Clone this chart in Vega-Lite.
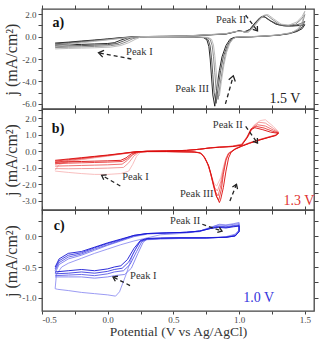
{
  "$schema": "https://vega.github.io/schema/vega-lite/v6.json",
  "padding": {"left": 3, "top": 3, "right": 3, "bottom": 0},
  "spacing": 0,
  "bounds": "flush",
  "config": {
    "font": "Liberation Serif",
    "view": {"stroke": "#444", "strokeWidth": 1.3},
    "axis": {
      "grid": false, "domain": false, "tickSize": 4, "tickColor": "#444", "tickWidth": 1,
      "labelFont": "Liberation Serif", "labelFontSize": 9, "labelColor": "#444", "labelPadding": 2,
      "titleFont": "Liberation Serif", "titleFontSize": 16, "titleFontWeight": "normal", "titleColor": "#333"
    }
  },
  "resolve": {"scale": {"color": "independent"}},
  "datasets": {
    "cvA": [
      {"c":4,"v":-0.40,"j":-0.58},{"c":4,"v":-0.30,"j":-0.50},{"c":4,"v":-0.20,"j":-0.40},{"c":4,"v":-0.10,"j":-0.31},{"c":4,"v":0.00,"j":-0.21},{"c":4,"v":0.10,"j":-0.10},{"c":4,"v":0.20,"j":-0.02},{"c":4,"v":0.30,"j":0.00},{"c":4,"v":0.45,"j":0.01},{"c":4,"v":0.60,"j":0.05},{"c":4,"v":0.70,"j":0.10},{"c":4,"v":0.80,"j":0.16},{"c":4,"v":0.90,"j":0.22},{"c":4,"v":0.96,"j":0.38},{"c":4,"v":1.00,"j":0.52},{"c":4,"v":1.04,"j":0.42},{"c":4,"v":1.08,"j":0.62},{"c":4,"v":1.12,"j":1.20},{"c":4,"v":1.16,"j":1.70},{"c":4,"v":1.19,"j":1.78},{"c":4,"v":1.23,"j":1.45},{"c":4,"v":1.28,"j":1.10},{"c":4,"v":1.34,"j":0.95},{"c":4,"v":1.40,"j":0.93},{"c":4,"v":1.46,"j":0.98},{"c":4,"v":1.50,"j":1.05},
      {"c":4,"v":1.48,"j":0.70},{"c":4,"v":1.44,"j":0.45},{"c":4,"v":1.38,"j":0.25},{"c":4,"v":1.30,"j":0.12},{"c":4,"v":1.20,"j":0.04},{"c":4,"v":1.10,"j":-0.02},{"c":4,"v":1.00,"j":-0.06},{"c":4,"v":0.96,"j":-0.08},{"c":4,"v":0.93,"j":-0.25},{"c":4,"v":0.90,"j":-0.80},{"c":4,"v":0.87,"j":-1.80},{"c":4,"v":0.85,"j":-3.00},{"c":4,"v":0.83,"j":-4.60},{"c":4,"v":0.815,"j":-6.20},{"c":4,"v":0.80,"j":-5.20},{"c":4,"v":0.79,"j":-3.60},{"c":4,"v":0.78,"j":-2.00},{"c":4,"v":0.77,"j":-0.90},{"c":4,"v":0.755,"j":-0.30},{"c":4,"v":0.73,"j":-0.10},{"c":4,"v":0.65,"j":-0.04},{"c":4,"v":0.45,"j":-0.02},{"c":4,"v":0.30,"j":-0.02},{"c":4,"v":0.20,"j":-0.04},{"c":4,"v":0.15,"j":-0.12},{"c":4,"v":0.10,"j":-0.32},{"c":4,"v":0.05,"j":-0.55},{"c":4,"v":0.00,"j":-0.62},{"c":4,"v":-0.10,"j":-0.66},{"c":4,"v":-0.20,"j":-0.70},{"c":4,"v":-0.30,"j":-0.73},{"c":4,"v":-0.40,"j":-0.76},

      {"c":3,"v":-0.40,"j":-0.65},{"c":3,"v":-0.30,"j":-0.55},{"c":3,"v":-0.20,"j":-0.44},{"c":3,"v":-0.10,"j":-0.34},{"c":3,"v":0.00,"j":-0.24},{"c":3,"v":0.10,"j":-0.12},{"c":3,"v":0.20,"j":-0.03},{"c":3,"v":0.30,"j":0.00},{"c":3,"v":0.45,"j":0.02},{"c":3,"v":0.60,"j":0.05},{"c":3,"v":0.70,"j":0.11},{"c":3,"v":0.80,"j":0.17},{"c":3,"v":0.90,"j":0.24},{"c":3,"v":0.96,"j":0.40},{"c":3,"v":1.00,"j":0.50},{"c":3,"v":1.05,"j":0.40},{"c":3,"v":1.09,"j":0.70},{"c":3,"v":1.13,"j":1.30},{"c":3,"v":1.17,"j":1.76},{"c":3,"v":1.20,"j":1.72},{"c":3,"v":1.24,"j":1.40},{"c":3,"v":1.30,"j":1.05},{"c":3,"v":1.36,"j":0.95},{"c":3,"v":1.42,"j":0.98},{"c":3,"v":1.47,"j":1.15},{"c":3,"v":1.50,"j":1.35},
      {"c":3,"v":1.48,"j":0.85},{"c":3,"v":1.44,"j":0.50},{"c":3,"v":1.38,"j":0.28},{"c":3,"v":1.30,"j":0.13},{"c":3,"v":1.20,"j":0.04},{"c":3,"v":1.10,"j":-0.02},{"c":3,"v":1.00,"j":-0.05},{"c":3,"v":0.97,"j":-0.08},{"c":3,"v":0.94,"j":-0.25},{"c":3,"v":0.91,"j":-0.80},{"c":3,"v":0.88,"j":-1.80},{"c":3,"v":0.86,"j":-3.00},{"c":3,"v":0.84,"j":-4.60},{"c":3,"v":0.825,"j":-5.95},{"c":3,"v":0.81,"j":-5.00},{"c":3,"v":0.80,"j":-3.40},{"c":3,"v":0.79,"j":-1.90},{"c":3,"v":0.78,"j":-0.85},{"c":3,"v":0.765,"j":-0.28},{"c":3,"v":0.74,"j":-0.10},{"c":3,"v":0.66,"j":-0.04},{"c":3,"v":0.45,"j":-0.02},{"c":3,"v":0.30,"j":-0.02},{"c":3,"v":0.22,"j":-0.04},{"c":3,"v":0.17,"j":-0.15},{"c":3,"v":0.12,"j":-0.40},{"c":3,"v":0.07,"j":-0.62},{"c":3,"v":0.00,"j":-0.72},{"c":3,"v":-0.10,"j":-0.77},{"c":3,"v":-0.20,"j":-0.81},{"c":3,"v":-0.30,"j":-0.84},{"c":3,"v":-0.40,"j":-0.88},

      {"c":2,"v":-0.40,"j":-0.75},{"c":2,"v":-0.30,"j":-0.62},{"c":2,"v":-0.20,"j":-0.50},{"c":2,"v":-0.10,"j":-0.38},{"c":2,"v":0.00,"j":-0.27},{"c":2,"v":0.10,"j":-0.15},{"c":2,"v":0.20,"j":-0.04},{"c":2,"v":0.30,"j":0.00},{"c":2,"v":0.45,"j":0.02},{"c":2,"v":0.60,"j":0.06},{"c":2,"v":0.70,"j":0.12},{"c":2,"v":0.80,"j":0.18},{"c":2,"v":0.90,"j":0.25},{"c":2,"v":0.97,"j":0.42},{"c":2,"v":1.01,"j":0.48},{"c":2,"v":1.06,"j":0.38},{"c":2,"v":1.10,"j":0.75},{"c":2,"v":1.14,"j":1.35},{"c":2,"v":1.18,"j":1.85},{"c":2,"v":1.21,"j":1.90},{"c":2,"v":1.25,"j":1.55},{"c":2,"v":1.31,"j":1.05},{"c":2,"v":1.37,"j":0.98},{"c":2,"v":1.43,"j":1.10},{"c":2,"v":1.47,"j":1.50},{"c":2,"v":1.50,"j":1.95},
      {"c":2,"v":1.48,"j":1.10},{"c":2,"v":1.45,"j":0.60},{"c":2,"v":1.39,"j":0.30},{"c":2,"v":1.30,"j":0.14},{"c":2,"v":1.20,"j":0.05},{"c":2,"v":1.10,"j":-0.01},{"c":2,"v":1.00,"j":-0.04},{"c":2,"v":0.975,"j":-0.07},{"c":2,"v":0.95,"j":-0.22},{"c":2,"v":0.92,"j":-0.70},{"c":2,"v":0.895,"j":-1.60},{"c":2,"v":0.875,"j":-2.80},{"c":2,"v":0.855,"j":-4.30},{"c":2,"v":0.84,"j":-5.60},{"c":2,"v":0.825,"j":-4.70},{"c":2,"v":0.815,"j":-3.20},{"c":2,"v":0.805,"j":-1.80},{"c":2,"v":0.795,"j":-0.80},{"c":2,"v":0.78,"j":-0.26},{"c":2,"v":0.755,"j":-0.09},{"c":2,"v":0.67,"j":-0.04},{"c":2,"v":0.45,"j":-0.02},{"c":2,"v":0.30,"j":-0.02},{"c":2,"v":0.24,"j":-0.05},{"c":2,"v":0.19,"j":-0.20},{"c":2,"v":0.14,"j":-0.48},{"c":2,"v":0.09,"j":-0.70},{"c":2,"v":0.02,"j":-0.82},{"c":2,"v":-0.10,"j":-0.88},{"c":2,"v":-0.20,"j":-0.92},{"c":2,"v":-0.30,"j":-0.95},{"c":2,"v":-0.40,"j":-0.98},

      {"c":1,"v":-0.40,"j":-0.90},{"c":1,"v":-0.30,"j":-0.72},{"c":1,"v":-0.20,"j":-0.57},{"c":1,"v":-0.10,"j":-0.43},{"c":1,"v":0.00,"j":-0.30},{"c":1,"v":0.10,"j":-0.17},{"c":1,"v":0.20,"j":-0.05},{"c":1,"v":0.30,"j":0.00},{"c":1,"v":0.45,"j":0.03},{"c":1,"v":0.60,"j":0.06},{"c":1,"v":0.70,"j":0.12},{"c":1,"v":0.80,"j":0.19},{"c":1,"v":0.90,"j":0.26},{"c":1,"v":0.97,"j":0.44},{"c":1,"v":1.02,"j":0.46},{"c":1,"v":1.07,"j":0.36},{"c":1,"v":1.11,"j":0.80},{"c":1,"v":1.15,"j":1.40},{"c":1,"v":1.19,"j":1.90},{"c":1,"v":1.22,"j":1.95},{"c":1,"v":1.26,"j":1.60},{"c":1,"v":1.32,"j":1.10},{"c":1,"v":1.38,"j":1.02},{"c":1,"v":1.44,"j":1.30},{"c":1,"v":1.48,"j":1.80},{"c":1,"v":1.50,"j":2.25},
      {"c":1,"v":1.48,"j":1.30},{"c":1,"v":1.45,"j":0.70},{"c":1,"v":1.40,"j":0.35},{"c":1,"v":1.30,"j":0.15},{"c":1,"v":1.20,"j":0.05},{"c":1,"v":1.10,"j":0.00},{"c":1,"v":1.00,"j":-0.03},{"c":1,"v":0.98,"j":-0.06},{"c":1,"v":0.955,"j":-0.20},{"c":1,"v":0.93,"j":-0.60},{"c":1,"v":0.905,"j":-1.40},{"c":1,"v":0.885,"j":-2.50},{"c":1,"v":0.865,"j":-4.00},{"c":1,"v":0.85,"j":-5.30},{"c":1,"v":0.835,"j":-4.40},{"c":1,"v":0.825,"j":-3.00},{"c":1,"v":0.815,"j":-1.70},{"c":1,"v":0.805,"j":-0.75},{"c":1,"v":0.79,"j":-0.24},{"c":1,"v":0.765,"j":-0.08},{"c":1,"v":0.68,"j":-0.04},{"c":1,"v":0.45,"j":-0.02},{"c":1,"v":0.30,"j":-0.02},{"c":1,"v":0.25,"j":-0.05},{"c":1,"v":0.21,"j":-0.25},{"c":1,"v":0.16,"j":-0.55},{"c":1,"v":0.10,"j":-0.80},{"c":1,"v":0.02,"j":-0.95},{"c":1,"v":-0.10,"j":-1.00},{"c":1,"v":-0.20,"j":-1.03},{"c":1,"v":-0.30,"j":-1.06},{"c":1,"v":-0.40,"j":-1.10}
    ],
    "cvB": [
      {"c":1,"v":-0.40,"j":-1.15},{"c":1,"v":-0.37,"j":-0.80},{"c":1,"v":-0.30,"j":-0.66},{"c":1,"v":-0.20,"j":-0.52},{"c":1,"v":-0.10,"j":-0.40},{"c":1,"v":0.00,"j":-0.30},{"c":1,"v":0.10,"j":-0.18},{"c":1,"v":0.20,"j":-0.07},{"c":1,"v":0.30,"j":0.00},{"c":1,"v":0.45,"j":0.02},{"c":1,"v":0.60,"j":0.05},{"c":1,"v":0.70,"j":0.12},{"c":1,"v":0.78,"j":0.21},{"c":1,"v":0.85,"j":0.26},{"c":1,"v":0.95,"j":0.31},{"c":1,"v":1.02,"j":0.44},{"c":1,"v":1.07,"j":1.00},{"c":1,"v":1.11,"j":1.55},{"c":1,"v":1.16,"j":1.85},{"c":1,"v":1.20,"j":1.90},{"c":1,"v":1.26,"j":1.50},{"c":1,"v":1.30,"j":1.18},
      {"c":1,"v":1.28,"j":0.99},{"c":1,"v":1.22,"j":0.86},{"c":1,"v":1.15,"j":0.70},{"c":1,"v":1.08,"j":0.52},{"c":1,"v":1.02,"j":0.34},{"c":1,"v":0.97,"j":0.16},{"c":1,"v":0.94,"j":-0.01},{"c":1,"v":0.92,"j":-0.10},{"c":1,"v":0.90,"j":-0.40},{"c":1,"v":0.88,"j":-0.95},{"c":1,"v":0.86,"j":-1.60},{"c":1,"v":0.83,"j":-2.10},{"c":1,"v":0.81,"j":-1.95},{"c":1,"v":0.79,"j":-1.50},{"c":1,"v":0.77,"j":-1.00},{"c":1,"v":0.75,"j":-0.58},{"c":1,"v":0.72,"j":-0.22},{"c":1,"v":0.69,"j":-0.07},{"c":1,"v":0.63,"j":-0.04},{"c":1,"v":0.45,"j":-0.02},{"c":1,"v":0.30,"j":-0.02},{"c":1,"v":0.25,"j":-0.06},{"c":1,"v":0.22,"j":-0.30},{"c":1,"v":0.19,"j":-0.80},{"c":1,"v":0.16,"j":-1.20},{"c":1,"v":0.10,"j":-1.35},{"c":1,"v":0.00,"j":-1.40},{"c":1,"v":-0.10,"j":-1.40},{"c":1,"v":-0.20,"j":-1.35},{"c":1,"v":-0.30,"j":-1.28},{"c":1,"v":-0.40,"j":-1.20},

      {"c":2,"v":-0.40,"j":-0.80},{"c":2,"v":-0.30,"j":-0.62},{"c":2,"v":-0.20,"j":-0.49},{"c":2,"v":-0.10,"j":-0.38},{"c":2,"v":0.00,"j":-0.28},{"c":2,"v":0.10,"j":-0.17},{"c":2,"v":0.20,"j":-0.06},{"c":2,"v":0.30,"j":0.00},{"c":2,"v":0.45,"j":0.02},{"c":2,"v":0.60,"j":0.05},{"c":2,"v":0.70,"j":0.12},{"c":2,"v":0.78,"j":0.21},{"c":2,"v":0.85,"j":0.25},{"c":2,"v":0.95,"j":0.30},{"c":2,"v":1.02,"j":0.42},{"c":2,"v":1.07,"j":0.95},{"c":2,"v":1.11,"j":1.50},{"c":2,"v":1.15,"j":1.75},{"c":2,"v":1.20,"j":1.70},{"c":2,"v":1.26,"j":1.38},{"c":2,"v":1.30,"j":1.15},
      {"c":2,"v":1.28,"j":0.98},{"c":2,"v":1.22,"j":0.85},{"c":2,"v":1.15,"j":0.69},{"c":2,"v":1.08,"j":0.51},{"c":2,"v":1.02,"j":0.33},{"c":2,"v":0.97,"j":0.15},{"c":2,"v":0.94,"j":-0.02},{"c":2,"v":0.92,"j":-0.12},{"c":2,"v":0.90,"j":-0.45},{"c":2,"v":0.88,"j":-1.10},{"c":2,"v":0.86,"j":-1.85},{"c":2,"v":0.835,"j":-2.40},{"c":2,"v":0.815,"j":-2.20},{"c":2,"v":0.795,"j":-1.70},{"c":2,"v":0.775,"j":-1.10},{"c":2,"v":0.755,"j":-0.65},{"c":2,"v":0.725,"j":-0.25},{"c":2,"v":0.695,"j":-0.08},{"c":2,"v":0.64,"j":-0.04},{"c":2,"v":0.45,"j":-0.02},{"c":2,"v":0.30,"j":-0.02},{"c":2,"v":0.24,"j":-0.06},{"c":2,"v":0.20,"j":-0.28},{"c":2,"v":0.16,"j":-0.70},{"c":2,"v":0.12,"j":-0.98},{"c":2,"v":0.00,"j":-1.02},{"c":2,"v":-0.10,"j":-1.04},{"c":2,"v":-0.20,"j":-1.05},{"c":2,"v":-0.30,"j":-1.06},{"c":2,"v":-0.40,"j":-1.05},

      {"c":3,"v":-0.40,"j":-0.68},{"c":3,"v":-0.30,"j":-0.56},{"c":3,"v":-0.20,"j":-0.45},{"c":3,"v":-0.10,"j":-0.35},{"c":3,"v":0.00,"j":-0.26},{"c":3,"v":0.10,"j":-0.16},{"c":3,"v":0.20,"j":-0.05},{"c":3,"v":0.30,"j":0.00},{"c":3,"v":0.45,"j":0.02},{"c":3,"v":0.60,"j":0.05},{"c":3,"v":0.70,"j":0.12},{"c":3,"v":0.78,"j":0.20},{"c":3,"v":0.85,"j":0.25},{"c":3,"v":0.95,"j":0.30},{"c":3,"v":1.02,"j":0.40},{"c":3,"v":1.07,"j":0.90},{"c":3,"v":1.10,"j":1.40},{"c":3,"v":1.14,"j":1.60},{"c":3,"v":1.20,"j":1.52},{"c":3,"v":1.26,"j":1.28},{"c":3,"v":1.30,"j":1.12},
      {"c":3,"v":1.28,"j":0.97},{"c":3,"v":1.22,"j":0.84},{"c":3,"v":1.15,"j":0.68},{"c":3,"v":1.08,"j":0.50},{"c":3,"v":1.02,"j":0.32},{"c":3,"v":0.97,"j":0.14},{"c":3,"v":0.94,"j":-0.03},{"c":3,"v":0.92,"j":-0.14},{"c":3,"v":0.90,"j":-0.50},{"c":3,"v":0.88,"j":-1.25},{"c":3,"v":0.86,"j":-2.10},{"c":3,"v":0.84,"j":-2.70},{"c":3,"v":0.82,"j":-2.45},{"c":3,"v":0.80,"j":-1.90},{"c":3,"v":0.78,"j":-1.25},{"c":3,"v":0.76,"j":-0.75},{"c":3,"v":0.73,"j":-0.30},{"c":3,"v":0.70,"j":-0.09},{"c":3,"v":0.64,"j":-0.04},{"c":3,"v":0.45,"j":-0.02},{"c":3,"v":0.30,"j":-0.02},{"c":3,"v":0.23,"j":-0.06},{"c":3,"v":0.19,"j":-0.22},{"c":3,"v":0.15,"j":-0.55},{"c":3,"v":0.11,"j":-0.78},{"c":3,"v":0.00,"j":-0.82},{"c":3,"v":-0.10,"j":-0.84},{"c":3,"v":-0.20,"j":-0.86},{"c":3,"v":-0.30,"j":-0.88},{"c":3,"v":-0.40,"j":-0.90},

      {"c":4,"v":-0.40,"j":-0.60},{"c":4,"v":-0.30,"j":-0.51},{"c":4,"v":-0.20,"j":-0.42},{"c":4,"v":-0.10,"j":-0.33},{"c":4,"v":0.00,"j":-0.25},{"c":4,"v":0.10,"j":-0.15},{"c":4,"v":0.20,"j":-0.05},{"c":4,"v":0.30,"j":0.00},{"c":4,"v":0.45,"j":0.02},{"c":4,"v":0.60,"j":0.05},{"c":4,"v":0.70,"j":0.12},{"c":4,"v":0.78,"j":0.20},{"c":4,"v":0.85,"j":0.24},{"c":4,"v":0.95,"j":0.29},{"c":4,"v":1.02,"j":0.38},{"c":4,"v":1.06,"j":0.85},{"c":4,"v":1.09,"j":1.35},{"c":4,"v":1.13,"j":1.50},{"c":4,"v":1.19,"j":1.40},{"c":4,"v":1.25,"j":1.22},{"c":4,"v":1.30,"j":1.10},
      {"c":4,"v":1.28,"j":0.96},{"c":4,"v":1.22,"j":0.83},{"c":4,"v":1.15,"j":0.67},{"c":4,"v":1.08,"j":0.49},{"c":4,"v":1.02,"j":0.31},{"c":4,"v":0.97,"j":0.13},{"c":4,"v":0.94,"j":-0.04},{"c":4,"v":0.92,"j":-0.15},{"c":4,"v":0.90,"j":-0.55},{"c":4,"v":0.88,"j":-1.40},{"c":4,"v":0.865,"j":-2.30},{"c":4,"v":0.845,"j":-2.95},{"c":4,"v":0.825,"j":-2.70},{"c":4,"v":0.805,"j":-2.10},{"c":4,"v":0.785,"j":-1.40},{"c":4,"v":0.765,"j":-0.85},{"c":4,"v":0.735,"j":-0.35},{"c":4,"v":0.705,"j":-0.10},{"c":4,"v":0.65,"j":-0.04},{"c":4,"v":0.45,"j":-0.02},{"c":4,"v":0.30,"j":-0.02},{"c":4,"v":0.23,"j":-0.05},{"c":4,"v":0.19,"j":-0.18},{"c":4,"v":0.15,"j":-0.45},{"c":4,"v":0.11,"j":-0.62},{"c":4,"v":0.00,"j":-0.66},{"c":4,"v":-0.10,"j":-0.68},{"c":4,"v":-0.20,"j":-0.70},{"c":4,"v":-0.30,"j":-0.72},{"c":4,"v":-0.40,"j":-0.74},

      {"c":5,"v":-0.40,"j":-0.55},{"c":5,"v":-0.30,"j":-0.47},{"c":5,"v":-0.20,"j":-0.39},{"c":5,"v":-0.10,"j":-0.31},{"c":5,"v":0.00,"j":-0.23},{"c":5,"v":0.10,"j":-0.14},{"c":5,"v":0.20,"j":-0.04},{"c":5,"v":0.30,"j":0.00},{"c":5,"v":0.45,"j":0.02},{"c":5,"v":0.60,"j":0.05},{"c":5,"v":0.70,"j":0.12},{"c":5,"v":0.78,"j":0.20},{"c":5,"v":0.85,"j":0.24},{"c":5,"v":0.95,"j":0.28},{"c":5,"v":1.02,"j":0.36},{"c":5,"v":1.06,"j":0.80},{"c":5,"v":1.09,"j":1.30},{"c":5,"v":1.12,"j":1.42},{"c":5,"v":1.18,"j":1.30},{"c":5,"v":1.24,"j":1.15},{"c":5,"v":1.30,"j":1.08},
      {"c":5,"v":1.28,"j":0.95},{"c":5,"v":1.22,"j":0.82},{"c":5,"v":1.15,"j":0.66},{"c":5,"v":1.08,"j":0.48},{"c":5,"v":1.02,"j":0.30},{"c":5,"v":0.97,"j":0.12},{"c":5,"v":0.94,"j":-0.05},{"c":5,"v":0.92,"j":-0.40},{"c":5,"v":0.90,"j":-1.20},{"c":5,"v":0.88,"j":-2.20},{"c":5,"v":0.86,"j":-2.90},{"c":5,"v":0.85,"j":-3.10},{"c":5,"v":0.83,"j":-2.75},{"c":5,"v":0.81,"j":-2.15},{"c":5,"v":0.79,"j":-1.50},{"c":5,"v":0.77,"j":-0.90},{"c":5,"v":0.74,"j":-0.40},{"c":5,"v":0.71,"j":-0.12},{"c":5,"v":0.66,"j":-0.05},{"c":5,"v":0.45,"j":-0.02},{"c":5,"v":0.30,"j":-0.02},{"c":5,"v":0.22,"j":-0.04},{"c":5,"v":0.18,"j":-0.15},{"c":5,"v":0.14,"j":-0.40},{"c":5,"v":0.10,"j":-0.55},{"c":5,"v":0.00,"j":-0.58},{"c":5,"v":-0.10,"j":-0.60},{"c":5,"v":-0.20,"j":-0.62},{"c":5,"v":-0.30,"j":-0.64},{"c":5,"v":-0.40,"j":-0.66}
    ],
    "cvC": [
      {"c":1,"v":-0.40,"j":-0.85},{"c":1,"v":-0.39,"j":-0.62},{"c":1,"v":-0.35,"j":-0.50},{"c":1,"v":-0.30,"j":-0.44},{"c":1,"v":-0.20,"j":-0.36},{"c":1,"v":-0.10,"j":-0.28},{"c":1,"v":0.00,"j":-0.21},{"c":1,"v":0.10,"j":-0.14},{"c":1,"v":0.20,"j":-0.08},{"c":1,"v":0.30,"j":-0.03},{"c":1,"v":0.40,"j":0.02},{"c":1,"v":0.55,"j":0.04},{"c":1,"v":0.70,"j":0.07},{"c":1,"v":0.78,"j":0.13},{"c":1,"v":0.85,"j":0.19},{"c":1,"v":0.90,"j":0.18},{"c":1,"v":0.96,"j":0.20},{"c":1,"v":1.00,"j":0.22},
      {"c":1,"v":1.00,"j":0.10},{"c":1,"v":0.97,"j":0.03},{"c":1,"v":0.90,"j":-0.01},{"c":1,"v":0.75,"j":-0.03},{"c":1,"v":0.55,"j":-0.04},{"c":1,"v":0.40,"j":-0.05},{"c":1,"v":0.30,"j":-0.06},{"c":1,"v":0.24,"j":-0.10},{"c":1,"v":0.19,"j":-0.30},{"c":1,"v":0.14,"j":-0.62},{"c":1,"v":0.09,"j":-0.90},{"c":1,"v":0.06,"j":-0.97},{"c":1,"v":0.00,"j":-0.95},{"c":1,"v":-0.10,"j":-0.93},{"c":1,"v":-0.20,"j":-0.91},{"c":1,"v":-0.30,"j":-0.88},{"c":1,"v":-0.38,"j":-0.86},{"c":1,"v":-0.40,"j":-0.85},

      {"c":2,"v":-0.40,"j":-0.60},{"c":2,"v":-0.37,"j":-0.46},{"c":2,"v":-0.30,"j":-0.37},{"c":2,"v":-0.20,"j":-0.31},{"c":2,"v":-0.10,"j":-0.23},{"c":2,"v":0.00,"j":-0.15},{"c":2,"v":0.10,"j":-0.08},{"c":2,"v":0.20,"j":-0.01},{"c":2,"v":0.30,"j":0.03},{"c":2,"v":0.45,"j":0.05},{"c":2,"v":0.60,"j":0.06},{"c":2,"v":0.70,"j":0.08},{"c":2,"v":0.78,"j":0.14},{"c":2,"v":0.84,"j":0.18},{"c":2,"v":0.90,"j":0.17},{"c":2,"v":0.96,"j":0.19},{"c":2,"v":1.00,"j":0.20},
      {"c":2,"v":1.00,"j":0.09},{"c":2,"v":0.97,"j":0.02},{"c":2,"v":0.90,"j":-0.02},{"c":2,"v":0.75,"j":-0.03},{"c":2,"v":0.55,"j":-0.03},{"c":2,"v":0.40,"j":-0.04},{"c":2,"v":0.30,"j":-0.05},{"c":2,"v":0.27,"j":-0.10},{"c":2,"v":0.23,"j":-0.28},{"c":2,"v":0.18,"j":-0.52},{"c":2,"v":0.13,"j":-0.62},{"c":2,"v":0.05,"j":-0.64},{"c":2,"v":0.00,"j":-0.66},{"c":2,"v":-0.10,"j":-0.68},{"c":2,"v":-0.20,"j":-0.66},{"c":2,"v":-0.30,"j":-0.66},{"c":2,"v":-0.40,"j":-0.66},

      {"c":3,"v":-0.40,"j":-0.56},{"c":3,"v":-0.37,"j":-0.43},{"c":3,"v":-0.30,"j":-0.34},{"c":3,"v":-0.20,"j":-0.29},{"c":3,"v":-0.10,"j":-0.21},{"c":3,"v":0.00,"j":-0.14},{"c":3,"v":0.10,"j":-0.07},{"c":3,"v":0.20,"j":0.00},{"c":3,"v":0.30,"j":0.04},{"c":3,"v":0.45,"j":0.05},{"c":3,"v":0.60,"j":0.06},{"c":3,"v":0.70,"j":0.08},{"c":3,"v":0.78,"j":0.13},{"c":3,"v":0.84,"j":0.16},{"c":3,"v":0.90,"j":0.15},{"c":3,"v":0.96,"j":0.17},{"c":3,"v":1.00,"j":0.18},
      {"c":3,"v":1.00,"j":0.08},{"c":3,"v":0.97,"j":0.01},{"c":3,"v":0.90,"j":-0.02},{"c":3,"v":0.75,"j":-0.03},{"c":3,"v":0.55,"j":-0.03},{"c":3,"v":0.40,"j":-0.04},{"c":3,"v":0.30,"j":-0.05},{"c":3,"v":0.26,"j":-0.09},{"c":3,"v":0.22,"j":-0.25},{"c":3,"v":0.17,"j":-0.46},{"c":3,"v":0.12,"j":-0.56},{"c":3,"v":0.05,"j":-0.58},{"c":3,"v":0.00,"j":-0.61},{"c":3,"v":-0.10,"j":-0.64},{"c":3,"v":-0.20,"j":-0.62},{"c":3,"v":-0.30,"j":-0.63},{"c":3,"v":-0.40,"j":-0.64},

      {"c":4,"v":-0.40,"j":-0.53},{"c":4,"v":-0.37,"j":-0.40},{"c":4,"v":-0.30,"j":-0.31},{"c":4,"v":-0.20,"j":-0.27},{"c":4,"v":-0.10,"j":-0.19},{"c":4,"v":0.00,"j":-0.12},{"c":4,"v":0.10,"j":-0.06},{"c":4,"v":0.20,"j":0.01},{"c":4,"v":0.30,"j":0.04},{"c":4,"v":0.45,"j":0.05},{"c":4,"v":0.60,"j":0.06},{"c":4,"v":0.70,"j":0.08},{"c":4,"v":0.78,"j":0.12},{"c":4,"v":0.84,"j":0.15},{"c":4,"v":0.90,"j":0.14},{"c":4,"v":0.96,"j":0.16},{"c":4,"v":1.00,"j":0.17},
      {"c":4,"v":1.00,"j":0.07},{"c":4,"v":0.97,"j":0.00},{"c":4,"v":0.90,"j":-0.02},{"c":4,"v":0.75,"j":-0.03},{"c":4,"v":0.55,"j":-0.03},{"c":4,"v":0.40,"j":-0.04},{"c":4,"v":0.30,"j":-0.05},{"c":4,"v":0.25,"j":-0.08},{"c":4,"v":0.21,"j":-0.22},{"c":4,"v":0.16,"j":-0.42},{"c":4,"v":0.11,"j":-0.52},{"c":4,"v":0.05,"j":-0.54},{"c":4,"v":0.00,"j":-0.57},{"c":4,"v":-0.10,"j":-0.60},{"c":4,"v":-0.20,"j":-0.58},{"c":4,"v":-0.30,"j":-0.60},{"c":4,"v":-0.40,"j":-0.61},

      {"c":5,"v":-0.40,"j":-0.50},{"c":5,"v":-0.37,"j":-0.37},{"c":5,"v":-0.30,"j":-0.28},{"c":5,"v":-0.20,"j":-0.25},{"c":5,"v":-0.10,"j":-0.18},{"c":5,"v":0.00,"j":-0.11},{"c":5,"v":0.10,"j":-0.05},{"c":5,"v":0.20,"j":0.01},{"c":5,"v":0.30,"j":0.04},{"c":5,"v":0.45,"j":0.05},{"c":5,"v":0.60,"j":0.06},{"c":5,"v":0.70,"j":0.08},{"c":5,"v":0.78,"j":0.12},{"c":5,"v":0.84,"j":0.14},{"c":5,"v":0.90,"j":0.13},{"c":5,"v":0.96,"j":0.15},{"c":5,"v":1.00,"j":0.16},
      {"c":5,"v":1.00,"j":0.07},{"c":5,"v":0.97,"j":0.00},{"c":5,"v":0.90,"j":-0.02},{"c":5,"v":0.75,"j":-0.03},{"c":5,"v":0.55,"j":-0.03},{"c":5,"v":0.40,"j":-0.03},{"c":5,"v":0.30,"j":-0.04},{"c":5,"v":0.25,"j":-0.07},{"c":5,"v":0.20,"j":-0.20},{"c":5,"v":0.15,"j":-0.38},{"c":5,"v":0.10,"j":-0.48},{"c":5,"v":0.05,"j":-0.50},{"c":5,"v":0.00,"j":-0.53},{"c":5,"v":-0.10,"j":-0.56},{"c":5,"v":-0.20,"j":-0.54},{"c":5,"v":-0.30,"j":-0.56},{"c":5,"v":-0.40,"j":-0.58}
    ]
  },
  "vconcat": [
    {
      "width": 272, "height": 100,
      "resolve": {"axis": {"x": "independent", "y": "independent"}},
      "layer": [
        {
          "data": {"name": "cvA"},
          "mark": {"type": "line", "strokeWidth": 0.9, "strokeJoin": "round"},
          "encoding": {
            "x": {"field": "v", "type": "quantitative", "scale": {"domain": [-0.5, 1.57], "nice": false, "zero": false},
                  "axis": {"orient": "bottom", "labels": false, "title": null, "values": [-0.5,-0.25,0,0.25,0.5,0.75,1,1.25,1.5]}},
            "y": {"field": "j", "type": "quantitative", "scale": {"domain": [-6.45, 2.45], "nice": false, "zero": false},
                  "axis": {"title": "j (mA/cm²)", "titlePadding": 2, "values": [-6,-5,-4,-3,-2,-1,0,1,2],
                           "labelExpr": "abs(datum.value % 2) < 0.001 ? replace(format(datum.value, '.1f'), '−', '-') : ''"}},
            "color": {"field": "c", "type": "ordinal", "scale": {"range": ["#b4b4b4", "#7e7e7e", "#474747", "#101010"]}, "legend": null},
            "order": {"value": null}
          }
        },
        {
          "mark": {"type": "rule", "strokeDash": [6, 4], "strokeWidth": 1.4, "color": "#444"},
          "encoding": {"x": {"datum": 1.5, "type": "quantitative", "axis": null}}
        },
        {
          "data": {"values": [
            {"k": "I", "v": 0.18, "j": -2.0}, {"k": "I", "v": -0.07, "j": -1.45},
            {"k": "III", "v": 0.896, "j": -6.0}, {"k": "III", "v": 0.956, "j": -3.5},
            {"k": "II", "v": 1.05, "j": 1.9}, {"k": "II", "v": 1.14, "j": 0.5}
          ]},
          "mark": {"type": "line", "strokeDash": [4, 3], "strokeWidth": 1.3, "color": "#222"},
          "encoding": {
            "x": {"field": "v", "type": "quantitative", "axis": null},
            "y": {"field": "j", "type": "quantitative", "axis": null},
            "detail": {"field": "k"},
            "order": {"value": null}
          }
        },
        {
          "data": {"values": [
            {"k": "I", "v": -0.038, "j": -1.83}, {"k": "I", "v": -0.07, "j": -1.45}, {"k": "I", "v": -0.028, "j": -1.23},
            {"k": "III", "v": 0.921, "j": -3.84}, {"k": "III", "v": 0.956, "j": -3.5}, {"k": "III", "v": 0.971, "j": -4.01},
            {"k": "II", "v": 1.139, "j": 0.94}, {"k": "II", "v": 1.14, "j": 0.5}, {"k": "II", "v": 1.104, "j": 0.63}
          ]},
          "mark": {"type": "line", "strokeWidth": 1.3, "color": "#222"},
          "encoding": {
            "x": {"field": "v", "type": "quantitative", "axis": null},
            "y": {"field": "j", "type": "quantitative", "axis": null},
            "detail": {"field": "k"},
            "order": {"value": null}
          }
        },
        {
          "data": {"values": [
            {"t": "Peak I", "v": 0.14, "j": -1.38},
            {"t": "Peak III", "v": 0.515, "j": -4.67},
            {"t": "Peak II", "v": 0.825, "j": 1.47}
          ]},
          "mark": {"type": "text", "align": "left", "baseline": "middle", "fontSize": 10.5, "color": "#333"},
          "encoding": {
            "x": {"field": "v", "type": "quantitative",
                  "axis": {"orient": "top", "labels": false, "title": null, "values": [-0.5,-0.25,0,0.25,0.5,0.75,1,1.25,1.5]}},
            "y": {"field": "j", "type": "quantitative",
                  "axis": {"orient": "right", "labels": false, "title": null, "values": [-6,-5,-4,-3,-2,-1,0,1,2]}},
            "text": {"field": "t"}
          }
        },
        {
          "data": {"values": [{"t": "a)", "v": -0.42, "j": 1.2}]},
          "mark": {"type": "text", "align": "left", "baseline": "middle", "fontSize": 14, "fontWeight": "bold", "color": "#111"},
          "encoding": {
            "x": {"field": "v", "type": "quantitative", "axis": null},
            "y": {"field": "j", "type": "quantitative", "axis": null},
            "text": {"field": "t"}
          }
        },
        {
          "data": {"values": [{"t": "1.5 V", "v": 1.466, "j": -5.58}]},
          "mark": {"type": "text", "align": "right", "baseline": "middle", "fontSize": 14, "color": "#222"},
          "encoding": {
            "x": {"field": "v", "type": "quantitative", "axis": null},
            "y": {"field": "j", "type": "quantitative", "axis": null},
            "text": {"field": "t"}
          }
        }
      ]
    },
    {
      "width": 272, "height": 101,
      "resolve": {"axis": {"x": "independent", "y": "independent"}},
      "layer": [
        {
          "data": {"name": "cvB"},
          "mark": {"type": "line", "strokeWidth": 0.9, "strokeJoin": "round"},
          "encoding": {
            "x": {"field": "v", "type": "quantitative", "scale": {"domain": [-0.5, 1.57], "nice": false, "zero": false},
                  "axis": {"orient": "bottom", "labels": false, "title": null, "values": [-0.5,-0.25,0,0.25,0.5,0.75,1,1.25,1.5]}},
            "y": {"field": "j", "type": "quantitative", "scale": {"domain": [-3.55, 2.55], "nice": false, "zero": false},
                  "axis": {"title": "j (mA/cm²)", "titlePadding": 2, "values": [-3,-2.5,-2,-1.5,-1,-0.5,0,0.5,1,1.5,2,2.5],
                           "labelExpr": "abs(datum.value % 1) < 0.001 ? replace(format(datum.value, '.1f'), '−', '-') : ''"}},
            "color": {"field": "c", "type": "ordinal", "scale": {"range": ["#f7b8b8", "#f29090", "#ec6262", "#e63434", "#da0a0a"]}, "legend": null},
            "order": {"value": null}
          }
        },
        {
          "mark": {"type": "rule", "strokeDash": [6, 4], "strokeWidth": 1.4, "color": "#e43a3a"},
          "encoding": {"x": {"datum": 1.3, "type": "quantitative", "axis": null}}
        },
        {
          "data": {"values": [
            {"k": "I", "v": 0.096, "j": -2.1}, {"k": "I", "v": -0.046, "j": -1.45},
            {"k": "III", "v": 0.93, "j": -3.0}, {"k": "III", "v": 0.98, "j": -2.0},
            {"k": "II", "v": 1.05, "j": 1.5}, {"k": "II", "v": 1.14, "j": 0.5}
          ]},
          "mark": {"type": "line", "strokeDash": [4, 3], "strokeWidth": 1.3, "color": "#222"},
          "encoding": {
            "x": {"field": "v", "type": "quantitative", "axis": null},
            "y": {"field": "j", "type": "quantitative", "axis": null},
            "detail": {"field": "k"},
            "order": {"value": null}
          }
        },
        {
          "data": {"values": [
            {"k": "I", "v": -0.030, "j": -1.72}, {"k": "I", "v": -0.046, "j": -1.45}, {"k": "I", "v": -0.008, "j": -1.43},
            {"k": "III", "v": 0.949, "j": -2.16}, {"k": "III", "v": 0.98, "j": -2.0}, {"k": "III", "v": 0.988, "j": -2.29},
            {"k": "II", "v": 1.139, "j": 0.80}, {"k": "II", "v": 1.14, "j": 0.5}, {"k": "II", "v": 1.105, "j": 0.60}
          ]},
          "mark": {"type": "line", "strokeWidth": 1.3, "color": "#222"},
          "encoding": {
            "x": {"field": "v", "type": "quantitative", "axis": null},
            "y": {"field": "j", "type": "quantitative", "axis": null},
            "detail": {"field": "k"},
            "order": {"value": null}
          }
        },
        {
          "data": {"values": [
            {"t": "Peak II", "v": 0.80, "j": 1.56},
            {"t": "Peak I", "v": 0.11, "j": -1.56},
            {"t": "Peak III", "v": 0.55, "j": -2.59}
          ]},
          "mark": {"type": "text", "align": "left", "baseline": "middle", "fontSize": 10.5, "color": "#333"},
          "encoding": {
            "x": {"field": "v", "type": "quantitative",
                  "axis": {"orient": "top", "labels": false, "title": null, "values": [-0.5,-0.25,0,0.25,0.5,0.75,1,1.25,1.5]}},
            "y": {"field": "j", "type": "quantitative",
                  "axis": {"orient": "right", "labels": false, "title": null, "values": [-3,-2.5,-2,-1.5,-1,-0.5,0,0.5,1,1.5,2,2.5]}},
            "text": {"field": "t"}
          }
        },
        {
          "data": {"values": [{"t": "b)", "v": -0.425, "j": 1.36}]},
          "mark": {"type": "text", "align": "left", "baseline": "middle", "fontSize": 14, "fontWeight": "bold", "color": "#111"},
          "encoding": {
            "x": {"field": "v", "type": "quantitative", "axis": null},
            "y": {"field": "j", "type": "quantitative", "axis": null},
            "text": {"field": "t"}
          }
        },
        {
          "data": {"values": [{"t": "1.3 V", "v": 1.337, "j": -2.99}]},
          "mark": {"type": "text", "align": "left", "baseline": "middle", "fontSize": 14, "color": "#e03232"},
          "encoding": {
            "x": {"field": "v", "type": "quantitative", "axis": null},
            "y": {"field": "j", "type": "quantitative", "axis": null},
            "text": {"field": "t"}
          }
        }
      ]
    },
    {
      "width": 272, "height": 101,
      "resolve": {"axis": {"x": "independent", "y": "independent"}},
      "layer": [
        {
          "data": {"name": "cvC"},
          "mark": {"type": "line", "strokeWidth": 0.9, "strokeJoin": "round"},
          "encoding": {
            "x": {"field": "v", "type": "quantitative", "scale": {"domain": [-0.5, 1.57], "nice": false, "zero": false},
                  "axis": {"orient": "bottom", "title": "Potential (V vs Ag/AgCl)", "titleFontSize": 13.5, "titlePadding": 0,
                           "tickSize": 3, "labelPadding": 1,
                           "values": [-0.5,-0.25,0,0.25,0.5,0.75,1,1.25,1.5],
                           "labelExpr": "abs(datum.value % 0.5) < 0.001 ? replace(format(datum.value, '.1f'), '−', '-') : ''"}},
            "y": {"field": "j", "type": "quantitative", "scale": {"domain": [-1.21, 0.42], "nice": false, "zero": false},
                  "axis": {"title": "j (mA/cm²)", "titlePadding": 2, "values": [-1,-0.75,-0.5,-0.25,0,0.25],
                           "labelExpr": "abs(datum.value % 0.5) < 0.001 ? replace(format(datum.value, '.1f'), '−', '-') : ''"}},
            "color": {"field": "c", "type": "ordinal", "scale": {"range": ["#9090f2", "#7c7cee", "#5c5ce8", "#3a3ae0", "#1414d4"]}, "legend": null},
            "order": {"value": null}
          }
        },
        {
          "mark": {"type": "rule", "strokeDash": [6, 4], "strokeWidth": 1.4, "color": "#3434dc"},
          "encoding": {"x": {"datum": 1.0, "type": "quantitative", "axis": null}}
        },
        {
          "data": {"values": [
            {"k": "I", "v": 0.17, "j": -0.8}, {"k": "I", "v": 0.04, "j": -0.66},
            {"k": "II", "v": 0.72, "j": 0.19}, {"k": "II", "v": 0.87, "j": 0.08}
          ]},
          "mark": {"type": "line", "strokeDash": [4, 3], "strokeWidth": 1.3, "color": "#222"},
          "encoding": {
            "x": {"field": "v", "type": "quantitative", "axis": null},
            "y": {"field": "j", "type": "quantitative", "axis": null},
            "detail": {"field": "k"},
            "order": {"value": null}
          }
        },
        {
          "data": {"values": [
            {"k": "I", "v": 0.058, "j": -0.73}, {"k": "I", "v": 0.04, "j": -0.66}, {"k": "I", "v": 0.078, "j": -0.649},
            {"k": "II", "v": 0.849, "j": 0.144}, {"k": "II", "v": 0.87, "j": 0.08}, {"k": "II", "v": 0.834, "j": 0.058}
          ]},
          "mark": {"type": "line", "strokeWidth": 1.3, "color": "#222"},
          "encoding": {
            "x": {"field": "v", "type": "quantitative", "axis": null},
            "y": {"field": "j", "type": "quantitative", "axis": null},
            "detail": {"field": "k"},
            "order": {"value": null}
          }
        },
        {
          "data": {"values": [
            {"t": "Peak II", "v": 0.475, "j": 0.24},
            {"t": "Peak I", "v": 0.17, "j": -0.64}
          ]},
          "mark": {"type": "text", "align": "left", "baseline": "middle", "fontSize": 10.5, "color": "#333"},
          "encoding": {
            "x": {"field": "v", "type": "quantitative",
                  "axis": {"orient": "top", "labels": false, "title": null, "values": [-0.5,-0.25,0,0.25,0.5,0.75,1,1.25,1.5]}},
            "y": {"field": "j", "type": "quantitative",
                  "axis": {"orient": "right", "labels": false, "title": null, "values": [-1,-0.75,-0.5,-0.25,0,0.25]}},
            "text": {"field": "t"}
          }
        },
        {
          "data": {"values": [{"t": "c)", "v": -0.41, "j": 0.16}]},
          "mark": {"type": "text", "align": "left", "baseline": "middle", "fontSize": 14, "fontWeight": "bold", "color": "#111"},
          "encoding": {
            "x": {"field": "v", "type": "quantitative", "axis": null},
            "y": {"field": "j", "type": "quantitative", "axis": null},
            "text": {"field": "t"}
          }
        },
        {
          "data": {"values": [{"t": "1.0 V", "v": 1.032, "j": -1.0}]},
          "mark": {"type": "text", "align": "left", "baseline": "middle", "fontSize": 14, "color": "#3434dc"},
          "encoding": {
            "x": {"field": "v", "type": "quantitative", "axis": null},
            "y": {"field": "j", "type": "quantitative", "axis": null},
            "text": {"field": "t"}
          }
        }
      ]
    }
  ]
}
